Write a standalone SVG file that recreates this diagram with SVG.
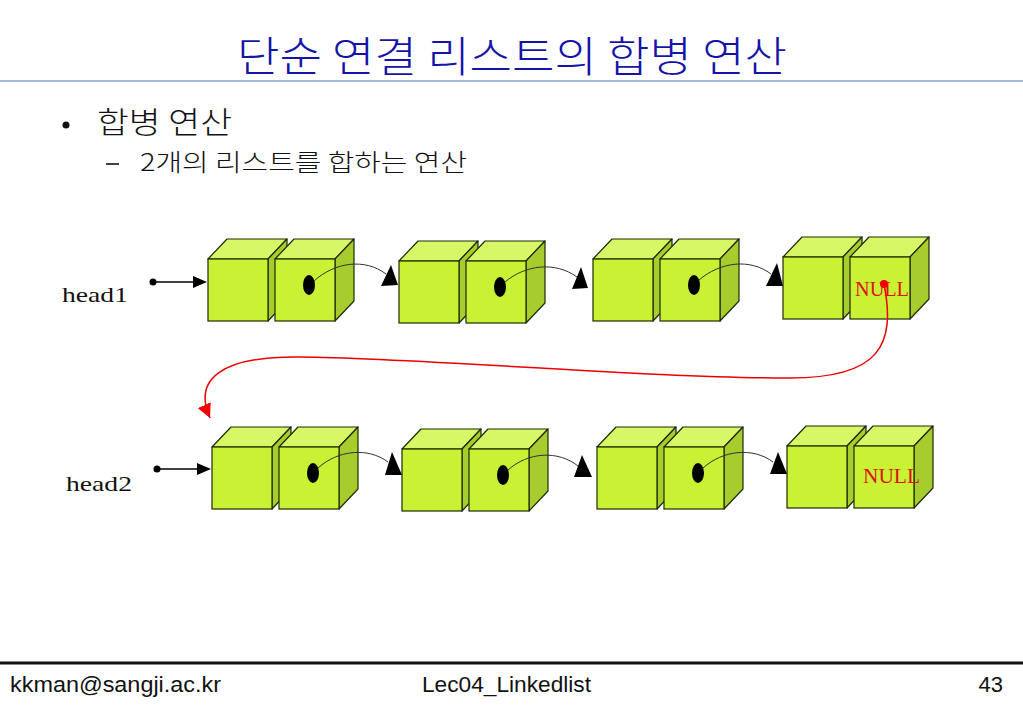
<svg xmlns="http://www.w3.org/2000/svg" xmlns:xlink="http://www.w3.org/1999/xlink" width="1023" height="708" viewBox="0 0 1023 708">
<style>
.kr{font-family:"Noto Sans CJK KR","Noto Sans",sans-serif;font-weight:300}
.title{font-size:42px;fill:#1414a8}
.body{fill:#111}
.lbl{font-family:"Liberation Serif","DejaVu Serif",serif;font-size:21px;fill:#111}
.null{font-family:"Liberation Serif","DejaVu Serif",serif;fill:#e01010}
.foot{font-family:"Liberation Sans","DejaVu Sans",sans-serif;font-size:22px;fill:#111}
.front{fill:#c9f234;stroke:#1d2a05;stroke-width:1.2}
.top{fill:#d8f766;stroke:#1d2a05;stroke-width:1.2;stroke-linejoin:round}
.side{fill:#a7cc2d;stroke:#1d2a05;stroke-width:1.2;stroke-linejoin:round}
.link{fill:none;stroke:#333;stroke-width:1}
.head{fill:#000}
.ptr{stroke:#000;stroke-width:1.6}
</style>
<defs>
<g id="cube">
<polygon class="top" points="0,0 19,-20 79,-20 60,0"/>
<polygon class="side" points="60,0 79,-20 79,42 60,62"/>
<rect class="front" x="0" y="0" width="60" height="62"/>
</g>
<g id="node">
<use xlink:href="#cube"/>
<use xlink:href="#cube" x="67"/>
</g>
<marker id="redArrow" markerWidth="14" markerHeight="14" refX="10" refY="5" orient="auto" markerUnits="userSpaceOnUse" viewBox="0 0 10 10">
<path d="M0,0 L10,5 L0,10 z" fill="#ee0000"/>
</marker>
</defs>

<rect width="1023" height="708" fill="#fff"/>

<g id="title">
<text class="kr title" x="512" y="72" text-anchor="middle" textLength="550" lengthAdjust="spacingAndGlyphs">단순 연결 리스트의 합병 연산</text>
<line x1="0" y1="81" x2="1023" y2="81" stroke="#8aa6d2" stroke-width="1.5"/>
</g>

<g id="bullets">
<circle cx="66" cy="125" r="3.5" fill="#111"/>
<text class="kr body" x="97" y="133" font-size="30" textLength="135" lengthAdjust="spacingAndGlyphs">합병 연산</text>
<line x1="106" y1="164" x2="119" y2="164" stroke="#111" stroke-width="1.6"/>
<text class="kr body" x="140" y="171" font-size="24" textLength="327" lengthAdjust="spacingAndGlyphs">2개의 리스트를 합하는 연산</text>
</g>

<g id="head1">
<text class="lbl" x="62" y="302" textLength="66" lengthAdjust="spacingAndGlyphs">head1</text>
</g>
<g id="head2">
<text class="lbl" x="66" y="491" textLength="66" lengthAdjust="spacingAndGlyphs">head2</text>
</g>

<g id="list1-node1"><use xlink:href="#node" x="208" y="259"/><ellipse cx="309" cy="285" rx="6" ry="10" fill="#000"/></g>
<g id="list1-node2"><use xlink:href="#node" x="399" y="261"/><ellipse cx="500" cy="287" rx="6" ry="10" fill="#000"/></g>
<g id="list1-node3"><use xlink:href="#node" x="593" y="259"/><ellipse cx="694" cy="285" rx="6" ry="10" fill="#000"/></g>
<g id="list1-node4"><use xlink:href="#node" x="783" y="257"/><text class="null" x="855" y="296" font-size="20" textLength="54" lengthAdjust="spacingAndGlyphs">NULL</text></g>

<g id="list2-node1"><use xlink:href="#node" x="212" y="447"/><ellipse cx="313" cy="473" rx="6" ry="10" fill="#000"/></g>
<g id="list2-node2"><use xlink:href="#node" x="402" y="449"/><ellipse cx="503" cy="475" rx="6" ry="10" fill="#000"/></g>
<g id="list2-node3"><use xlink:href="#node" x="597" y="447"/><ellipse cx="698" cy="473" rx="6" ry="10" fill="#000"/></g>
<g id="list2-node4"><use xlink:href="#node" x="787" y="446"/><text class="null" x="863" y="483" font-size="21" textLength="57" lengthAdjust="spacingAndGlyphs">NULL</text></g>

<g id="connectors">
<!-- head pointers -->
<circle cx="153" cy="282" r="3.5" class="head"/>
<line class="ptr" x1="153" y1="282" x2="195" y2="282"/>
<polygon class="head" points="193,276 193,288 207,282"/>
<circle cx="157" cy="469" r="3.5" class="head"/>
<line class="ptr" x1="157" y1="469" x2="199" y2="469"/>
<polygon class="head" points="197,463 197,475 211,469"/>

<!-- list1 links -->
<path class="link" d="M314,281 C335,262 365,258 386,274"/>
<polygon class="head" points="391,265 381,286 398,285"/>
<path class="link" d="M505,282 C525,265 555,261 577,277"/>
<polygon class="head" points="581,267 572,289 588,288"/>
<path class="link" d="M699,280 C720,262 750,258 771,274"/>
<polygon class="head" points="777,263 766,286 783,286"/>

<!-- list2 links -->
<path class="link" d="M318,468 C338,450 368,447 388,462"/>
<polygon class="head" points="392,452 385,475 402,475"/>
<path class="link" d="M508,470 C528,452 558,450 578,466"/>
<polygon class="head" points="582,455 574,477 592,477"/>
<path class="link" d="M703,468 C723,450 753,447 773,462"/>
<polygon class="head" points="778,452 770,474 787,474"/>

<!-- merge link -->
<circle cx="884" cy="284" r="4" fill="#ee0000"/>
<path d="M884,284 C896,345 880,378 790,378 C650,378 420,358 300,357 C220,356 193,380 210,418" fill="none" stroke="#ee0000" stroke-width="1.5" marker-end="url(#redArrow)"/>
</g>

<g id="footer">
<line x1="0" y1="663" x2="1023" y2="663" stroke="#111" stroke-width="3"/>
<text class="foot" x="10" y="692" textLength="211" lengthAdjust="spacingAndGlyphs">kkman@sangji.ac.kr</text>
<text class="foot" x="422" y="692" textLength="169" lengthAdjust="spacingAndGlyphs">Lec04_Linkedlist</text>
<text class="foot" x="1003" y="692" text-anchor="end">43</text>
</g>
</svg>
